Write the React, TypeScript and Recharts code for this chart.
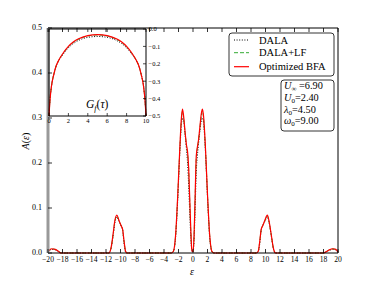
import React from 'react';
import { LineChart, Line, XAxis, YAxis } from 'recharts';

// ---------- main panel data: spectral function A(eps) ----------
const eps = [
  -20, -19.5, -19, -18.5, -18.2, -12, -11.6, -11.3, -11.0, -10.8, -10.5, -10.2, -9.9, -9.7, -9.5, -9.3, -9.1,
  -3, -2.7, -2.4, -2.1, -1.8, -1.6, -1.45, -1.3, -1.1, -0.9, -0.75, -0.6, -0.45, -0.3, -0.15, 0,
  0.15, 0.3, 0.45, 0.6, 0.75, 0.95, 1.15, 1.3, 1.45, 1.7, 2.0, 2.3, 2.6, 2.9,
  8.7, 9.0, 9.2, 9.4, 9.6, 9.9, 10.25, 10.5, 10.8, 11.1, 11.4, 18.0, 18.4, 18.8, 19.3, 19.7, 20,
];
const bfa = [
  0.003, 0.0095, 0.008, 0.003, 0, 0, 0, 0.012, 0.045, 0.07, 0.084, 0.072, 0.06, 0.052, 0.025, 0.004, 0,
  0, 0.004, 0.04, 0.13, 0.24, 0.3, 0.32, 0.305, 0.27, 0.24, 0.225, 0.19, 0.12, 0.05, 0.005, 0.003,
  0.04, 0.13, 0.215, 0.235, 0.25, 0.28, 0.31, 0.32, 0.305, 0.24, 0.13, 0.04, 0.004, 0,
  0, 0.004, 0.025, 0.052, 0.06, 0.072, 0.084, 0.07, 0.04, 0.01, 0, 0, 0.003, 0.007, 0.0095, 0.008, 0.002,
];
const dalaLf = [
  0.003, 0.009, 0.008, 0.003, 0, 0, 0, 0.011, 0.043, 0.068, 0.082, 0.071, 0.06, 0.051, 0.024, 0.004, 0,
  0, 0.004, 0.038, 0.127, 0.235, 0.295, 0.315, 0.3, 0.268, 0.238, 0.22, 0.185, 0.115, 0.047, 0.005, 0.003,
  0.038, 0.125, 0.21, 0.232, 0.248, 0.277, 0.305, 0.315, 0.3, 0.236, 0.128, 0.039, 0.004, 0,
  0, 0.004, 0.024, 0.051, 0.06, 0.071, 0.082, 0.068, 0.039, 0.01, 0, 0, 0.003, 0.007, 0.009, 0.008, 0.002,
];
const dala = [
  0.002, 0.008, 0.007, 0.003, 0, 0, 0, 0.01, 0.04, 0.065, 0.08, 0.07, 0.06, 0.05, 0.02, 0.002, 0,
  0, 0.003, 0.035, 0.12, 0.23, 0.285, 0.3, 0.295, 0.265, 0.23, 0.2, 0.15, 0.09, 0.035, 0.004, 0.002,
  0.03, 0.1, 0.18, 0.215, 0.24, 0.27, 0.295, 0.3, 0.29, 0.23, 0.125, 0.035, 0.003, 0,
  0, 0.003, 0.02, 0.05, 0.06, 0.07, 0.08, 0.068, 0.038, 0.008, 0, 0, 0.003, 0.006, 0.008, 0.007, 0.002,
];
const xTicks = [-20, -18, -16, -14, -12, -10, -8, -6, -4, -2, 0, 2, 4, 6, 8, 10, 12, 14, 16, 18, 20];
const yTicks = [0, 0.1, 0.2, 0.3, 0.4, 0.5];

// ---------- inset data: G_f(tau) ----------
const tau = [0, 0.1, 0.25, 0.5, 0.75, 1, 1.5, 2, 2.5, 3, 4, 5, 6, 7, 7.5, 8, 8.5, 9, 9.25, 9.5, 9.75, 9.9, 10];
const gBfa = [-0.5, -0.41, -0.33, -0.26, -0.21, -0.18, -0.135, -0.1, -0.075, -0.058, -0.038, -0.032, -0.038, -0.058, -0.075, -0.1, -0.135, -0.18, -0.21, -0.26, -0.33, -0.41, -0.5];
const gLf = [-0.5, -0.41, -0.33, -0.26, -0.21, -0.18, -0.136, -0.102, -0.077, -0.06, -0.04, -0.034, -0.04, -0.06, -0.077, -0.102, -0.136, -0.18, -0.21, -0.26, -0.33, -0.41, -0.5];
const gDala = [-0.5, -0.41, -0.33, -0.26, -0.212, -0.183, -0.142, -0.108, -0.084, -0.067, -0.048, -0.043, -0.048, -0.067, -0.084, -0.108, -0.142, -0.183, -0.212, -0.26, -0.33, -0.41, -0.5];
const tauTicks = [0, 2, 4, 6, 8, 10];
const gTicks = [0, -0.1, -0.2, -0.3, -0.4, -0.5];

const seriesNames = ['DALA', 'DALA+LF', 'Optimized BFA'];
const params = [
  { sym: 'U', sub: '∞', val: '=6.90' },
  { sym: 'U', sub: '0', val: '=2.40' },
  { sym: 'λ', sub: '0', val: '=4.50' },
  { sym: 'ω', sub: '0', val: '=9.00' },
];

const mainData = eps.map((e, i) => ({ e, dala: dala[i], lf: dalaLf[i], bfa: bfa[i] }));
const insetData = tau.map((t, i) => ({ t, dala: gDala[i], lf: gLf[i], bfa: gBfa[i] }));

const FONT = "'Liberation Serif', 'DejaVu Serif', serif";
const neg = (s: string) => s.replace('-', '\u2212');

const BottomTick = (p: any) => (
  <g>
    <line x1={p.x} x2={p.x} y1={p.y} y2={p.y - 4} stroke="#000" strokeWidth={0.8} />
    <text x={p.x} y={p.y + 8.5} textAnchor="middle" fontSize={7.6} fontFamily={FONT} fill="#000">
      {neg(String(p.payload.value))}
    </text>
  </g>
);
const LeftTick = (p: any) => (
  <g>
    <line x1={p.x} x2={p.x + 4} y1={p.y} y2={p.y} stroke="#000" strokeWidth={0.8} />
    <text x={p.x - 6} y={p.y + 2.2} textAnchor="end" fontSize={8} fontFamily={FONT} fill="#000">
      {Number(p.payload.value).toFixed(1)}
    </text>
  </g>
);
const TopTick = (p: any) => <line x1={p.x} x2={p.x} y1={p.y} y2={p.y + 4} stroke="#000" strokeWidth={0.8} />;
const RightTick = (p: any) => <line x1={p.x} x2={p.x - 4} y1={p.y} y2={p.y} stroke="#000" strokeWidth={0.8} />;

const InsetBottomTick = (p: any) => (
  <g>
    <line x1={p.x} x2={p.x} y1={p.y} y2={p.y - 3} stroke="#000" strokeWidth={0.7} />
    <text x={p.x} y={p.y + 6.5} textAnchor="middle" fontSize={6.5} fontFamily={FONT} fill="#000">
      {String(p.payload.value)}
    </text>
  </g>
);
const InsetRightTick = (p: any) => (
  <g>
    <line x1={p.x} x2={p.x - 3} y1={p.y} y2={p.y} stroke="#000" strokeWidth={0.7} />
    <text x={p.x + 2.5} y={p.y + 2.3} textAnchor="start" fontSize={6.5} fontFamily={FONT} fill="#000">
      {neg(Number(p.payload.value).toFixed(1))}
    </text>
  </g>
);
const InsetTopTick = (p: any) => <line x1={p.x} x2={p.x} y1={p.y} y2={p.y + 3} stroke="#000" strokeWidth={0.7} />;
const InsetLeftTick = (p: any) => <line x1={p.x} x2={p.x + 3} y1={p.y} y2={p.y} stroke="#000" strokeWidth={0.7} />;

export default function App() {
  return (
    <div style={{ position: 'absolute', left: 0, top: 0, width: 376, height: 282, background: '#fff' }}>
      <LineChart width={376} height={282} data={mainData} margin={{ top: 27, right: 37, left: 0, bottom: 28 }}>
        <XAxis xAxisId="b" dataKey="e" type="number" domain={[-20, 20]} ticks={xTicks} interval={0}
          height={1} tickSize={0} tickMargin={0} tickLine={false} tick={BottomTick} axisLine={{ stroke: '#000', strokeWidth: 1 }} />
        <XAxis xAxisId="t" orientation="top" dataKey="e" type="number" domain={[-20, 20]} ticks={xTicks} interval={0}
          height={1} tickSize={0} tickMargin={0} tickLine={false} tick={TopTick} axisLine={{ stroke: '#000', strokeWidth: 1 }} />
        <YAxis yAxisId="l" type="number" domain={[0, 0.5]} ticks={yTicks} interval={0} width={48}
          tickSize={0} tickMargin={0} tickLine={false} tick={LeftTick} axisLine={{ stroke: '#999', strokeWidth: 3 }} />
        <YAxis yAxisId="r" orientation="right" type="number" domain={[0, 0.5]} ticks={yTicks} interval={0} width={1}
          tickSize={0} tickMargin={0} tickLine={false} tick={RightTick} axisLine={{ stroke: '#000', strokeWidth: 1 }} />
        <Line xAxisId="b" yAxisId="l" dataKey="dala" type="monotone" stroke="#000" strokeWidth={1} strokeDasharray="1 1.6" dot={false} isAnimationActive={false} />
        <Line xAxisId="b" yAxisId="l" dataKey="lf" type="monotone" stroke="#3a3" strokeWidth={1} strokeDasharray="4 2" dot={false} isAnimationActive={false} />
        <Line xAxisId="b" yAxisId="l" dataKey="bfa" type="monotone" stroke="#ff0000" strokeWidth={1.2} dot={false} isAnimationActive={false} />
      </LineChart>

      <div style={{ position: 'absolute', left: 0, top: 0 }}>
        <LineChart width={170} height={130} data={insetData} margin={{ top: 28, left: 48, right: 23, bottom: 13 }}>
          <XAxis xAxisId="b" dataKey="t" type="number" domain={[0, 10]} ticks={tauTicks} interval={0}
            height={1} tickSize={0} tickMargin={0} tickLine={false} tick={InsetBottomTick} axisLine={{ stroke: '#000' }} />
          <XAxis xAxisId="t" orientation="top" dataKey="t" type="number" domain={[0, 10]} ticks={tauTicks} interval={0}
            height={1} tickSize={0} tickMargin={0} tickLine={false} tick={InsetTopTick} axisLine={{ stroke: '#000' }} />
          <YAxis yAxisId="r" orientation="right" type="number" domain={[-0.5, 0]} ticks={gTicks} interval={0} width={1}
            tickSize={0} tickMargin={0} tickLine={false} tick={InsetRightTick} axisLine={{ stroke: '#000' }} />
          <YAxis yAxisId="l" type="number" domain={[-0.5, 0]} ticks={gTicks} interval={0} width={1}
            tickSize={0} tickMargin={0} tickLine={false} tick={InsetLeftTick} axisLine={{ stroke: '#000' }} />
          <Line xAxisId="b" yAxisId="r" dataKey="dala" type="monotone" stroke="#000" strokeWidth={1} strokeDasharray="1 1.6" dot={false} isAnimationActive={false} />
          <Line xAxisId="b" yAxisId="r" dataKey="lf" type="monotone" stroke="#3a3" strokeWidth={1} strokeDasharray="4 2" dot={false} isAnimationActive={false} />
          <Line xAxisId="b" yAxisId="r" dataKey="bfa" type="monotone" stroke="#ff0000" strokeWidth={1.2} dot={false} isAnimationActive={false} />
        </LineChart>
      </div>

      <svg width={376} height={282} style={{ position: 'absolute', left: 0, top: 0, pointerEvents: 'none' }}>
        {/* inset label */}
        <text x={86} y={108} fontSize={11.5} fontFamily={FONT} fill="#000">
          <tspan fontStyle="italic">G</tspan>
          <tspan fontStyle="italic" fontSize={8} dy={3}>f</tspan>
          <tspan dy={-3}>(</tspan>
          <tspan fontStyle="italic">τ</tspan>
          <tspan>)</tspan>
        </text>
        {/* axis labels */}
        <text transform="translate(29,141) rotate(-90)" textAnchor="middle" fontSize={10} fontFamily={FONT} fill="#000">
          <tspan fontStyle="italic">A</tspan>
          <tspan>(</tspan>
          <tspan fontStyle="italic">ε</tspan>
          <tspan>)</tspan>
        </text>
        <text x={192} y={275} textAnchor="middle" fontSize={10} fontStyle="italic" fontFamily={FONT} fill="#000">ε</text>

        {/* legend */}
        <rect x={229} y={33} width={105} height={43} rx={3} ry={3} fill="#fff" stroke="#000" strokeWidth={0.8} />
        <line x1={234} x2={249} y1={40} y2={40} stroke="#000" strokeWidth={1} strokeDasharray="1 1.6" />
        <line x1={234} x2={249} y1={52.7} y2={52.7} stroke="#3a3" strokeWidth={1} strokeDasharray="4 2" />
        <line x1={234} x2={249} y1={66.7} y2={66.7} stroke="#ff0000" strokeWidth={1.2} />
        {seriesNames.map((n, i) => (
          <text key={n} x={259} y={[40, 52.7, 66.7][i] + 3.6} fontSize={10.5} fontFamily={FONT} fill="#000">{n}</text>
        ))}

        {/* parameter box */}
        <rect x={281} y={80} width={53} height={51} rx={3} ry={3} fill="#fff" stroke="#000" strokeWidth={0.8} />
        {params.map((p, i) => (
          <text key={i} x={284} y={[85.5, 97, 109, 120.5][i] + 3.5} fontSize={10.3} fontFamily={FONT} fill="#000">
            <tspan fontStyle="italic">{p.sym}</tspan>
            <tspan fontSize={7} dy={2}>{p.sub}</tspan>
            <tspan dy={-2}>{p.sub === '∞' ? ' ' : ''}{p.val}</tspan>
          </text>
        ))}
      </svg>
    </div>
  );
}
